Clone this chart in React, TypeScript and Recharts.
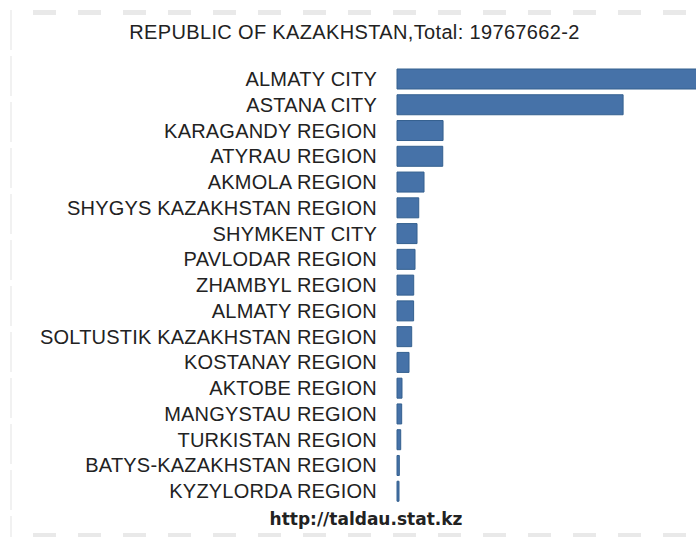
import React from 'react';
import { BarChart, Bar, XAxis, YAxis } from 'recharts';

const regions = [
	'ALMATY CITY',
	'ASTANA CITY',
	'KARAGANDY REGION',
	'ATYRAU REGION',
	'AKMOLA REGION',
	'SHYGYS KAZAKHSTAN REGION',
	'SHYMKENT CITY',
	'PAVLODAR REGION',
	'ZHAMBYL REGION',
	'ALMATY REGION',
	'SOLTUSTIK KAZAKHSTAN REGION',
	'KOSTANAY REGION',
	'AKTOBE REGION',
	'MANGYSTAU REGION',
	'TURKISTAN REGION',
	'BATYS-KAZAKHSTAN REGION',
	'KYZYLORDA REGION'
];

const values = [
	8735000, 5170000, 1053000, 1046000, 618000, 497000, 458000, 412000, 382000,
	380000, 336000, 275000, 114000, 107000, 85000, 53000, 46000
];

const title = 'REPUBLIC OF KAZAKHSTAN,Total: 19767662-2';
const source = 'http://taldau.stat.kz';

const data = regions.map((region, i) => ({ region, value: values[i] }));
const maxValue = Math.max(...values);

const dashH = (top: number, height: number) => ({
	position: 'absolute' as const,
	left: 33,
	width: 660,
	top,
	height,
	background: 'repeating-linear-gradient(to right, #e9e9e9 0px, #e9e9e9 23px, transparent 23px, transparent 45px)'
});

export default function App() {
	return (
		<div style={{ position: 'absolute', left: 0, top: 0, width: 696, height: 537, overflow: 'hidden', background: '#fff' }}>
			<div style={dashH(10, 5)} />
			<div style={dashH(533, 4)} />
			<div
				style={{
					position: 'absolute',
					left: 10,
					top: 10,
					width: 2,
					height: 527,
					background: 'repeating-linear-gradient(to bottom, #f1f1f1 0px, #f1f1f1 40px, transparent 40px, transparent 46px)'
				}}
			/>
			<div
				style={{
					position: 'absolute',
					left: 0,
					top: 22,
					width: 709,
					textAlign: 'center',
					fontFamily: '"Liberation Sans", Arial, sans-serif',
					fontSize: 20,
					lineHeight: '20px',
					letterSpacing: 0.35,
					color: '#222'
				}}
			>
				{title}
			</div>
			<div style={{ position: 'absolute', left: 0, top: 0 }}>
				<BarChart
					width={779}
					height={537}
					layout="vertical"
					data={data}
					margin={{ top: 66, right: 0, bottom: 33, left: 0 }}
				>
					<XAxis type="number" hide domain={[0, maxValue]} />
					<YAxis
						type="category"
						dataKey="region"
						width={397}
						axisLine={false}
						tickLine={false}
						tickSize={6}
						tickMargin={14}
						interval={0}
						tick={{ fill: '#222', fontSize: 20, fontFamily: '"Liberation Sans", Arial, sans-serif', letterSpacing: 0.2 }}
					/>
					<Bar dataKey="value" fill="#4672a8" stroke="#34608f" strokeWidth={1} barSize={20} isAnimationActive={false} />
				</BarChart>
			</div>
			<div
				style={{
					position: 'absolute',
					left: 0,
					top: 511,
					width: 732,
					textAlign: 'center',
					fontFamily: '"DejaVu Sans", Verdana, sans-serif',
					fontWeight: 'bold',
					fontSize: 17,
					lineHeight: '17px',
					color: '#222'
				}}
			>
				{source}
			</div>
		</div>
	);
}
